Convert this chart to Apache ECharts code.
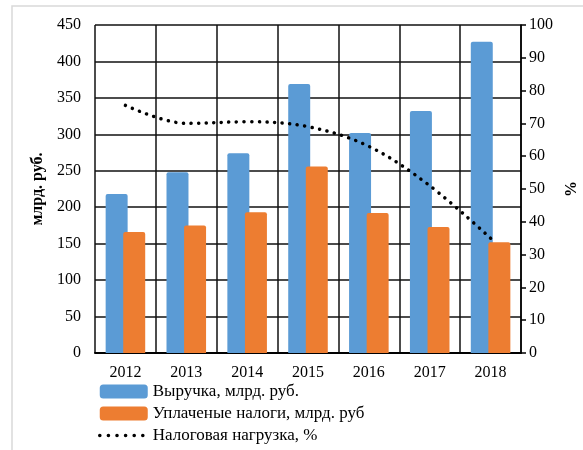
<!DOCTYPE html>
<html>
<head>
<meta charset="utf-8">
<script src="https://cdn.jsdelivr.net/npm/echarts@6/dist/echarts.min.js"></script>
<style>
  html, body { margin: 0; padding: 0; background: #fff; }
  #chart { width: 583px; height: 450px; }
</style>
</head>
<body>
<div id="chart"></div>
<script>
var years = ['2012', '2013', '2014', '2015', '2016', '2017', '2018'];
var revenue = [218, 248, 274, 369, 302, 332, 427];   // Выручка, млрд. руб.
var taxes = [166, 175, 193, 256, 192, 173, 152];     // Уплаченые налоги, млрд. руб
var taxLoad = [75.5, 70, 70.5, 69, 63, 51, 35];      // Налоговая нагрузка, %

var font = 'Liberation Serif';
var chart = echarts.init(document.getElementById('chart'));

chart.setOption({
    animation: false,
    textStyle: { fontFamily: font },
    graphic: [{
        type: 'rect',
        shape: { x: 12, y: 6, width: 600, height: 460 },
        style: { fill: 'none', stroke: '#d9d9d9', lineWidth: 1.5 },
        silent: true
    }],
    grid: { left: 95, right: 62, top: 25, bottom: 97, outerBoundsMode: 'none', containLabel: false },
    legend: {
        orient: 'vertical',
        left: 93,
        top: 378,
        height: 120,
        itemWidth: 48,
        itemHeight: 14,
        itemGap: 5,
        textStyle: { fontFamily: font, fontSize: 17, color: '#000' },
        data: [
            'Выручка, млрд. руб.',
            'Уплаченые налоги, млрд. руб',
            {
                name: 'Налоговая нагрузка, %',
                itemStyle: { opacity: 0 },
                lineStyle: { color: '#000', width: 3.5, type: [0.1, 8.5], cap: 'round' }
            }
        ]
    },
    xAxis: {
        type: 'category',
        data: years,
        axisLine: { lineStyle: { color: '#000', width: 2 } },
        axisTick: { show: false },
        axisLabel: { color: '#000', fontSize: 16, fontFamily: font, margin: 12 },
        splitLine: { show: true, lineStyle: { color: '#111', width: 1.5 } }
    },
    yAxis: [{
        type: 'value',
        min: 0, max: 450, interval: 50,
        name: 'млрд. руб.',
        nameLocation: 'middle',
        nameGap: 45,
        nameTextStyle: { color: '#000', fontSize: 16, fontWeight: 'bold', fontFamily: font },
        axisLine: { show: false },
        axisTick: { show: false },
        axisLabel: { color: '#000', fontSize: 16, fontFamily: font, margin: 14 },
        splitLine: { lineStyle: { color: '#111', width: 1.5 } }
    }, {
        type: 'value',
        min: 0, max: 100, interval: 10,
        name: '%',
        nameLocation: 'middle',
        nameGap: 43,
        nameRotate: 90,
        nameTextStyle: { color: '#000', fontSize: 16, fontWeight: 'bold', fontFamily: font },
        axisLine: { show: true, lineStyle: { color: '#000', width: 1.5 } },
        axisTick: { show: true, length: 5, lineStyle: { color: '#000', width: 1.5 } },
        axisLabel: { color: '#000', fontSize: 16, fontFamily: font, margin: 8 },
        splitLine: { show: false }
    }],
    series: [{
        name: 'Выручка, млрд. руб.',
        type: 'bar',
        data: revenue,
        barGap: '-20%',
        barCategoryGap: '35%',
        itemStyle: { color: '#5b9bd5', borderRadius: [2, 2, 0, 0] }
    }, {
        name: 'Уплаченые налоги, млрд. руб',
        type: 'bar',
        data: taxes,
        itemStyle: { color: '#ed7d31', borderRadius: [2, 2, 0, 0] }
    }, {
        name: 'Налоговая нагрузка, %',
        type: 'line',
        yAxisIndex: 1,
        data: taxLoad,
        smooth: 0.35,
        symbol: 'none',
        lineStyle: { color: '#000', width: 3.5, type: [0.1, 7.5], cap: 'round' },
        itemStyle: { color: '#000' },
        z: 5
    }]
});
</script>
</body>
</html>
